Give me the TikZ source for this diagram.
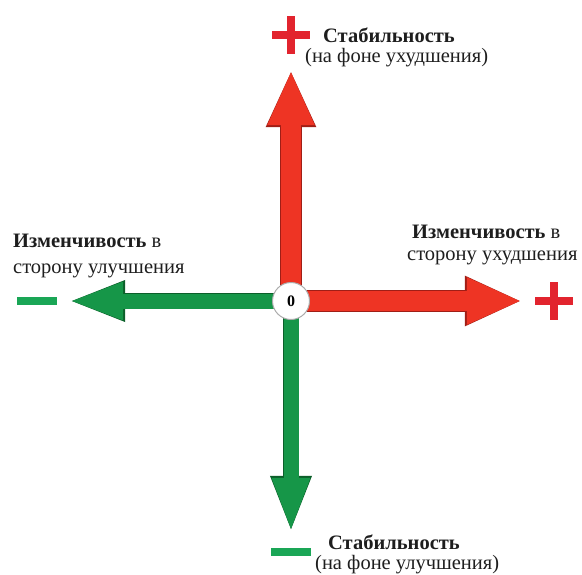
\documentclass[tikz,border=0pt]{standalone}
\usepackage{fontspec}
\setmainfont{Liberation Serif}
\usepackage{tikz}
\usetikzlibrary{arrows.meta}

\definecolor{arrred}{RGB}{238,52,36}
\definecolor{arrredD}{RGB}{160,30,22}
\definecolor{arrgreen}{RGB}{22,150,72}
\definecolor{arrgreenD}{RGB}{12,95,42}
\definecolor{signred}{RGB}{226,36,46}
\definecolor{signgreen}{RGB}{26,166,86}
\definecolor{txtgray}{RGB}{30,30,30}

\begin{document}
\begin{tikzpicture}[x=1pt, y=-1pt,
    redarr/.style={draw=arrred, line width=20pt, -{Triangle[length=55pt,width=43pt]},
        preaction={draw=arrredD, line width=21.6pt, -{Triangle[length=57pt,width=46pt]}}},
    greenarr/.style={draw=arrgreen, line width=15pt, -{Triangle[length=55pt,width=34pt]},
        preaction={draw=arrgreenD, line width=16.6pt, -{Triangle[length=57pt,width=37pt]}}},
    plussign/.style={minimum size=38pt, inner sep=0pt,
        path picture={\draw[signred, line width=8.5pt]
            (path picture bounding box.west) -- (path picture bounding box.east)
            (path picture bounding box.north) -- (path picture bounding box.south);}},
    minussign/.style={minimum width=40pt, minimum height=8pt, inner sep=0pt, fill=signgreen},
    zero/.style={circle, minimum size=37pt, inner sep=0pt, fill=white, draw=gray!65,
        line width=1pt, font=\bfseries\fontsize{16}{16}\selectfont},
    lbl/.style={anchor=base west, inner sep=0pt, text=txtgray, font=\fontsize{20.5}{21}\selectfont},
  ]
  \useasboundingbox (0,0) rectangle (582,574);

  % signs at the ends of the axes
  \node[plussign] (plusN) at (291,35) {};
  \node[plussign] (plusE) at (554,301) {};
  \node[minussign] (minusW) at (37,301) {};
  \node[minussign] (minusS) at (291,552) {};

  \coordinate (O) at (291,301);
  \draw[redarr, shorten >=16pt] (O) -- (plusN);
  \draw[redarr, shorten >=13pt] (O) -- (plusE);
  \draw[greenarr, shorten >=11pt] (O) -- (minusW);
  \draw[greenarr, shorten >=15pt] (O) -- (minusS);
  \node[zero] (zero) at (O) {0};

  % labels
  \node[lbl] (topA) at (323,42) {\textbf{Стабильность}};
  \node[lbl] (topB) at (305,62) {(на фоне ухудшения)};
  \node[lbl] (rightA) at (412,238) {\textbf{Изменчивость} в};
  \node[lbl] (rightB) at (407,260) {сторону ухудшения};
  \node[lbl] (leftA) at (13,247) {\textbf{Изменчивость} в};
  \node[lbl] (leftB) at (13,273) {сторону улучшения};
  \node[lbl] (botA) at (328,549) {\textbf{Стабильность}};
  \node[lbl] (botB) at (315,569) {(на фоне улучшения)};
\end{tikzpicture}
\end{document}
